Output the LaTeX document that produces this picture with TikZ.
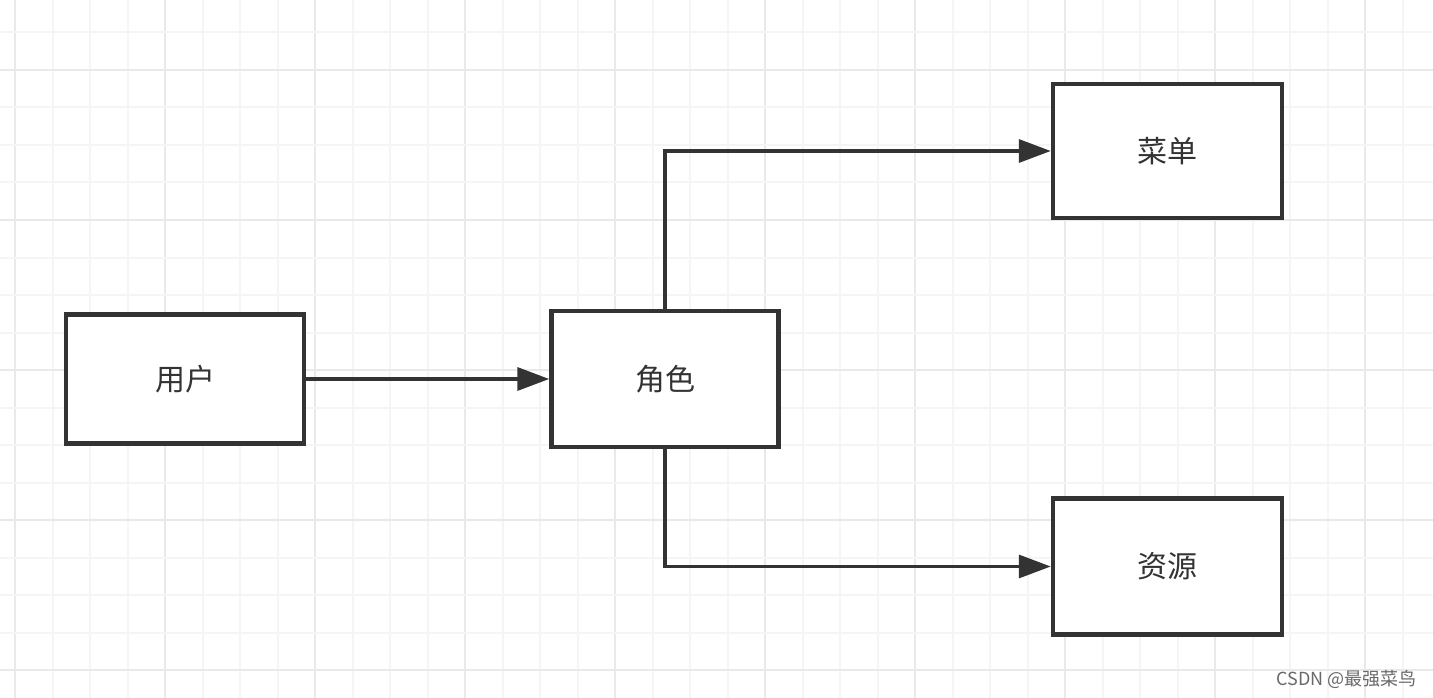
\documentclass[tikz,border=0pt]{standalone}
\usepackage{fontspec}
\setmainfont{Noto Sans CJK SC}
\usetikzlibrary{arrows.meta, positioning}
\definecolor{inkgray}{RGB}{51,51,51}
\definecolor{gridminor}{RGB}{245,245,245}
\definecolor{gridmajor}{RGB}{233,233,233}
\definecolor{markgray}{RGB}{105,105,105}

\begin{document}
\begin{tikzpicture}[
  x=1pt, y=-1pt,
  box/.style={rectangle, draw=inkgray, line width=4.5pt, fill=white,
              minimum width=229pt, minimum height=135pt, align=center,
              font=\fontsize{30}{36}\selectfont, text=inkgray},
  arrow/.style={-{Triangle[length=32pt, width=23pt]}, line width=3.5pt, color=inkgray},
  minorline/.style={draw=gridminor, line width=2pt},
  majorline/.style={draw=gridmajor, line width=2.5pt},
  watermark/.style={font=\fontsize{18}{20}\selectfont, text=markgray},
]
  \useasboundingbox[fill=white] (0,0) rectangle (1433,698);

  % background grid
  \begin{scope}
    \clip (0,0) rectangle (1433,698);
    \foreach \k in {0,...,37} {
      \pgfmathtruncatemacro\m{mod(\k,4)}
      \ifnum\m=0 \path[majorline] (15+37.5*\k,0) -- (15+37.5*\k,698);
      \else \path[minorline] (15+37.5*\k,0) -- (15+37.5*\k,698); \fi
    }
    \foreach \k in {0,...,18} {
      \pgfmathtruncatemacro\m{mod(\k+2,4)}
      \ifnum\m=0 \path[majorline] (0,-5+37.5*\k) -- (1433,-5+37.5*\k);
      \else \path[minorline] (0,-5+37.5*\k) -- (1433,-5+37.5*\k); \fi
    }
  \end{scope}

  \node[box, minimum width=238pt, minimum height=129pt] (user) at (185,379) {用户};
  \node[box, minimum width=227pt, minimum height=136pt, right=243pt of user] (role) {角色};
  \node[box, minimum height=134pt] (menu) at (1167.5,151) {菜单};
  \node[box, minimum height=136pt, below=276pt of menu] (res) {资源};

  \draw[arrow] (user) -- (role);
  \draw[arrow] (role.north) |- (menu);
  \draw[arrow] (role.south) |- (res);

  % watermark
  \node[watermark, anchor=east] (csdn) at (1420,679) {CSDN @最强菜鸟};
\end{tikzpicture}
\end{document}
